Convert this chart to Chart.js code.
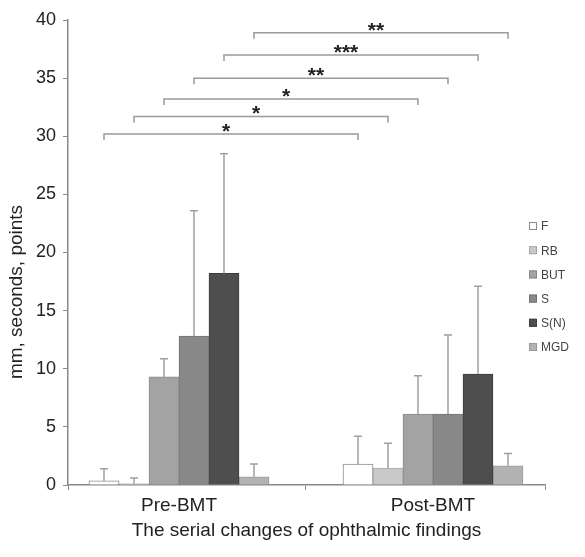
<!DOCTYPE html>
<html>
<head>
<meta charset="utf-8">
<script src="https://cdn.jsdelivr.net/npm/chart.js@4.4.0/dist/chart.umd.min.js"></script>
<style>
    html, body { margin: 0; padding: 0; background: #fff; }
    #wrap { width: 585px; height: 557px; position: relative; }
</style>
</head>
<body>
<div id="wrap"><canvas id="graficoOftalmico"></canvas></div>
<script>
// categorias y series
const categories = ['Pre-BMT', 'Post-BMT'];
const seriesNames = ['F', 'RB', 'BUT', 'S', 'S(N)', 'MGD'];

const valuesF = [0.35, 1.8];
const valuesRB = [0.1, 1.45];
const valuesBUT = [9.3, 6.1];
const valuesS = [12.8, 6.1];
const valuesSN = [18.2, 9.55];
const valuesMGD = [0.7, 1.65];

// desviacion (solo se dibuja hacia arriba)
const sdF = [1.05, 2.4];
const sdRB = [0.5, 2.15];
const sdBUT = [1.55, 3.3];
const sdS = [10.8, 6.8];
const sdSN = [10.3, 7.55];
const sdMGD = [1.1, 1.05];

const yTicks = [0, 5, 10, 15, 20, 25, 30, 35, 40];

// comparaciones Pre vs Post, una por serie
const bracketLevels = [30.2, 31.7, 33.2, 35.0, 37.0, 38.9];
const bracketMarks = ['*', '*', '*', '**', '***', '**'];

const FONT = "'Liberation Sans', Arial, sans-serif";

const fills = ['#ffffff', '#c9c9c9', '#a3a3a3', '#888888', '#4e4e4e', '#b2b2b2'];
const borders = ['#8c8c8c', '#a8a8a8', '#8a8a8a', '#747474', '#3c3c3c', '#9a9a9a'];

const allValues = [valuesF, valuesRB, valuesBUT, valuesS, valuesSN, valuesMGD];
const allSd = [sdF, sdRB, sdBUT, sdS, sdSN, sdMGD];

// el eje x es lineal: 0 = Pre-BMT, 1 = Post-BMT (grupos no centrados en cada mitad)
const X_MIN = -0.437;
const X_MAX = 1.441;

const extras = {
    id: 'extras',
    afterDatasetsDraw(chart) {
        const ctx = chart.ctx;
        const y = chart.scales.y;
        ctx.save();

        // barras de error
        chart.data.datasets.forEach((ds, i) => {
            const meta = chart.getDatasetMeta(i);
            meta.data.forEach((bar, j) => {
                const top = y.getPixelForValue(ds.data[j].y + ds.sd[j]);
                ctx.strokeStyle = '#a0a0a0';
                ctx.lineWidth = 1.5;
                ctx.beginPath();
                ctx.moveTo(bar.x, bar.y);
                ctx.lineTo(bar.x, top);
                ctx.moveTo(bar.x - 4, top);
                ctx.lineTo(bar.x + 4, top);
                ctx.stroke();
            });
        });

        // corchetes de significancia
        bracketLevels.forEach((lvl, i) => {
            const meta = chart.getDatasetMeta(i);
            const x1 = meta.data[0].x;
            const x2 = meta.data[1].x;
            const yy = y.getPixelForValue(lvl);
            ctx.strokeStyle = '#9a9a9a';
            ctx.lineWidth = 1.5;
            ctx.beginPath();
            ctx.moveTo(x1, yy + 6);
            ctx.lineTo(x1, yy);
            ctx.lineTo(x2, yy);
            ctx.lineTo(x2, yy + 6);
            ctx.stroke();
            ctx.fillStyle = '#222';
            ctx.font = 'bold 21px ' + FONT;
            ctx.textAlign = 'center';
            ctx.textBaseline = 'middle';
            ctx.fillText(bracketMarks[i], (x1 + x2) / 2 - 5, yy - 2);
        });

        // leyenda
        ctx.font = '12px ' + FONT;
        ctx.textAlign = 'left';
        ctx.textBaseline = 'middle';
        seriesNames.forEach((name, i) => {
            const cy = 226 + i * 24.2;
            ctx.fillStyle = fills[i];
            ctx.fillRect(529, cy - 4, 8, 8);
            ctx.strokeStyle = borders[i];
            ctx.lineWidth = 1;
            ctx.strokeRect(529.5, cy - 3.5, 7, 7);
            ctx.fillStyle = '#444';
            ctx.fillText(name, 541, cy + 1);
        });

        // titulo del eje y
        ctx.save();
        ctx.translate(17, 292);
        ctx.rotate(-Math.PI / 2);
        ctx.font = '19px ' + FONT;
        ctx.fillStyle = '#222';
        ctx.textAlign = 'center';
        ctx.textBaseline = 'middle';
        ctx.fillText('mm, seconds, points', 0, 0);
        ctx.restore();

        ctx.restore();
    }
};

document.addEventListener("DOMContentLoaded", function () {
    const ctx = document.getElementById('graficoOftalmico').getContext('2d');
    new Chart(ctx, {
        type: 'bar',
        data: {
            datasets: seriesNames.map((name, i) => ({
                label: name,
                data: allValues[i].map((v, j) => ({ x: j, y: v })),
                sd: allSd[i],
                backgroundColor: fills[i],
                borderColor: borders[i],
                borderWidth: 1,
                barThickness: 30
            }))
        },
        options: {
            responsive: true,
            maintainAspectRatio: false,
            animation: false,
            layout: { padding: { top: 20, right: 40, left: 0, bottom: 0 } },
            plugins: {
                legend: { display: false },
                tooltip: { enabled: false }
            },
            scales: {
                x: {
                    type: 'linear',
                    min: X_MIN,
                    max: X_MAX,
                    offset: false,
                    afterFit: scale => { scale.height = 72; },
                    afterBuildTicks: scale => {
                        scale.ticks = [X_MIN, 0, 0.5, 1, X_MAX].map(v => ({ value: v }));
                    },
                    grid: {
                        display: true,
                        offset: false,
                        drawOnChartArea: false,
                        drawTicks: true,
                        tickLength: 5,
                        color: c => (c.tick && (c.tick.value === 0 || c.tick.value === 1)) ? 'rgba(0,0,0,0)' : '#888'
                    },
                    border: { display: true, color: '#888', width: 1.5 },
                    ticks: {
                        color: '#222',
                        font: { family: FONT, size: 19 },
                        padding: 4,
                        autoSkip: false,
                        maxRotation: 0,
                        callback: v => v === 0 ? categories[0] : (v === 1 ? categories[1] : '')
                    },
                    title: {
                        display: true,
                        text: 'The serial changes of ophthalmic findings',
                        color: '#222',
                        font: { family: FONT, size: 19 },
                        padding: { top: 4, bottom: 15 }
                    }
                },
                y: {
                    min: 0,
                    max: 40,
                    afterFit: scale => { scale.width = 68; },
                    afterBuildTicks: scale => { scale.ticks = yTicks.map(v => ({ value: v })); },
                    grid: { display: true, drawOnChartArea: false, drawTicks: true, tickLength: 5, color: '#888' },
                    border: { display: true, color: '#888', width: 1.5 },
                    ticks: { color: '#222', font: { family: FONT, size: 18 }, padding: 7 }
                }
            }
        },
        plugins: [extras]
    });
});
</script>
</body>
</html>
